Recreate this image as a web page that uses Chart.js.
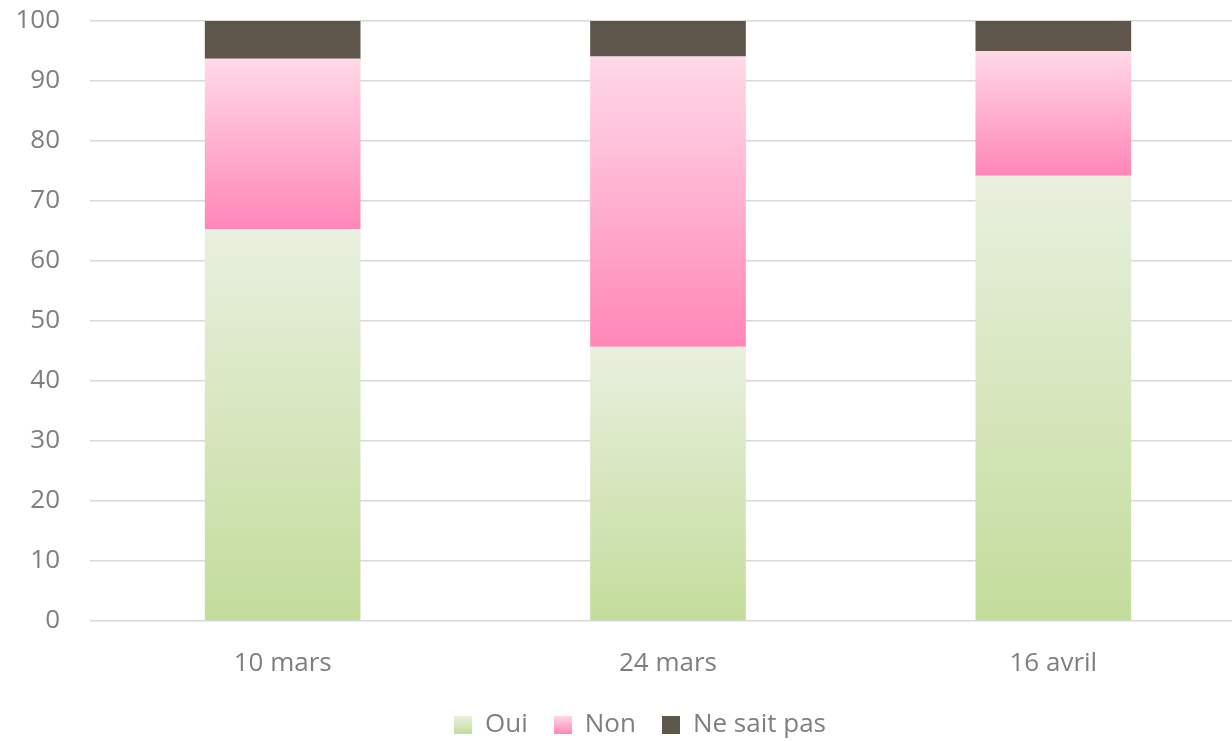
<!DOCTYPE html>
<html>
<head>
<meta charset="utf-8">
<script src="https://cdn.jsdelivr.net/npm/chart.js@4/dist/chart.umd.min.js"></script>
<style>
  html, body { margin: 0; padding: 0; background: #fff; overflow: hidden; }
  #wrap { width: 1280px; height: 741px; }
</style>
</head>
<body>
<div id="wrap"><canvas id="myChart" width="1280" height="741"></canvas></div>
<script>
const categories = ["10 mars", "24 mars", "16 avril"];
const seriesNames = ["Oui", "Non", "Ne sait pas"];
const ouiValues = [65.3, 45.7, 74.2];
const nonValues = [28.4, 48.4, 20.8];
const nspValues = [6.3, 5.9, 5.0];
const yTicks = [0, 10, 20, 30, 40, 50, 60, 70, 80, 90, 100];

const allValues = [ouiValues, nonValues, nspValues];
// gradient per segment: [top colour, bottom colour]
const fills = [
  ["#e9f0df", "#c3dc9b"],
  ["#ffd9e7", "#ff86b7"],
  ["#5e564a", "#5e564a"],
];

function segmentFill(dsIndex) {
  return (context) => {
    const chart = context.chart;
    const { ctx, chartArea, scales } = chart;
    if (!chartArea || context.type !== "data") return fills[dsIndex][1];
    const i = context.dataIndex;
    let start = 0;
    for (let d = 0; d < dsIndex; d++) start += allValues[d][i];
    const end = start + allValues[dsIndex][i];
    const yTop = scales.y.getPixelForValue(end);
    const yBot = scales.y.getPixelForValue(start);
    const g = ctx.createLinearGradient(0, yTop, 0, yBot);
    g.addColorStop(0, fills[dsIndex][0]);
    g.addColorStop(1, fills[dsIndex][1]);
    return g;
  };
}

function legendSwatch(dsIndex) {
  const c = document.createElement("canvas");
  c.width = 18;
  c.height = 18;
  const x = c.getContext("2d");
  const g = x.createLinearGradient(0, 0, 0, 18);
  g.addColorStop(0, fills[dsIndex][0]);
  g.addColorStop(1, fills[dsIndex][1]);
  x.fillStyle = g;
  x.fillRect(0, 0, 18, 18);
  return c;
}
const swatches = [legendSwatch(0), legendSwatch(1), legendSwatch(2)];

// the legend sits a little right of the centre and lower
const shiftLegend = {
  id: "shiftLegend",
  afterLayout(chart) {
    chart.legend.left += 17;
    chart.legend.right += 17;
    chart.legend.top += 7;
    chart.legend.bottom += 7;
  },
};

const ctx = document.getElementById("myChart").getContext("2d");
const font = { family: "'Open Sans', sans-serif", size: 26 };

new Chart(ctx, {
  type: "bar",
  data: {
    labels: categories,
    datasets: allValues.map((vals, k) => ({
      label: seriesNames[k],
      data: vals,
      backgroundColor: segmentFill(k),
      borderWidth: 0,
      categoryPercentage: 1,
      barPercentage: 0.404,
    })),
  },
  options: {
    responsive: false,
    animation: false,
    layout: { autoPadding: false, padding: { left: 0, right: 34, top: 21, bottom: 0 } },
    scales: {
      x: {
        stacked: true,
        afterFit: (axis) => { axis.height = 58; },
        grid: { display: false },
        border: { display: false },
        ticks: { color: "#7f7f7f", font: font, padding: 19 },
      },
      y: {
        stacked: true,
        min: 0,
        max: 100,
        afterBuildTicks: (axis) => { axis.ticks = yTicks.map((v) => ({ value: v })); },
        afterFit: (axis) => {
          axis.width = 90;
          axis.paddingTop = 0;
          axis.paddingBottom = 0;
        },
        grid: { color: "#d9d9d9", lineWidth: 1.5, drawTicks: false },
        border: { display: false },
        ticks: { color: "#7f7f7f", font: font, padding: 30 },
      },
    },
    plugins: {
      tooltip: { enabled: false },
      legend: {
        position: "bottom",
        labels: {
          color: "#7f7f7f",
          font: font,
          usePointStyle: true,
          boxWidth: 18,
          boxHeight: 18,
          padding: 26,
          generateLabels: (chart) => {
            const items = Chart.defaults.plugins.legend.labels.generateLabels(chart);
            items.forEach((it, k) => { it.pointStyle = swatches[k]; });
            return items;
          },
        },
      },
    },
  },
  plugins: [shiftLegend],
});
</script>
</body>
</html>
